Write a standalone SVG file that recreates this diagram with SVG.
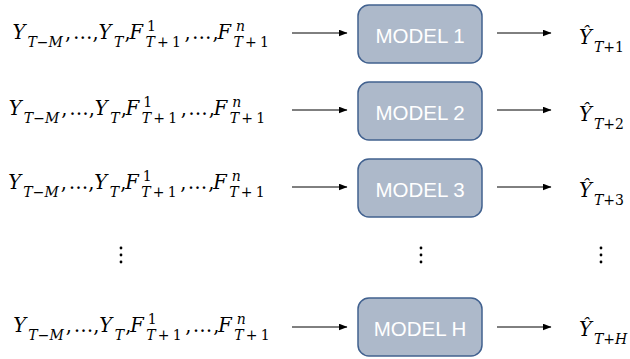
<svg xmlns="http://www.w3.org/2000/svg" width="630" height="359" viewBox="0 0 630 359">
  <style>
    .math { font-family: "DejaVu Serif", "Liberation Serif", serif; font-style: italic; font-size: 19.5px; fill: #000; }
    .sub { font-size: 14px; }
    .up { font-style: normal; }
    .box { fill: #ADB9CA; stroke: #41618F; stroke-width: 1.5; }
    .label { font-family: "Liberation Sans", Arial, sans-serif; font-size: 20.5px; fill: #FFFFFF; text-anchor: middle; }
    .wire { stroke: #000; stroke-width: 1; fill: none; marker-end: url(#head); }
    .dots { fill: #000; }
  </style>
  <defs>
    <marker id="head" markerUnits="userSpaceOnUse" markerWidth="9" markerHeight="7" refX="8.5" refY="3.5" orient="auto">
      <path d="M0,0 L9,3.5 L0,7 z" fill="#000"/>
    </marker>
  </defs>
  <rect width="630" height="359" fill="#FFFFFF"/>

  <!-- input sequences, one per row -->
  <g id="input-1" transform="translate(0,39)">
    <text class="math"><tspan x="12.5" y="0">Y</tspan><tspan class="sub" x="27.5" y="8">T<tspan class="up">−</tspan>M</tspan><tspan class="up" x="65" y="0">,</tspan><tspan class="up" x="73" y="0">…</tspan><tspan class="up" x="92.5" y="0">,</tspan><tspan x="98.5" y="0">Y</tspan><tspan class="sub" x="114" y="8">T</tspan><tspan class="up" x="124.5" y="0">,</tspan><tspan x="129.5" y="0">F</tspan><tspan class="sub up" x="147" y="-8.5">1</tspan><tspan class="sub" x="145.5" y="8">T</tspan><tspan class="sub up" x="157" y="8">+</tspan><tspan class="sub up" x="172" y="8">1</tspan><tspan class="up" x="184.5" y="0">,</tspan><tspan class="up" x="192" y="0">…</tspan><tspan class="up" x="212.5" y="0">,</tspan><tspan x="217.5" y="0">F</tspan><tspan class="sub" x="236" y="-8.5">n</tspan><tspan class="sub" x="233.5" y="8">T</tspan><tspan class="sub up" x="245" y="8">+</tspan><tspan class="sub up" x="260" y="8">1</tspan></text>
  </g>
  <g id="input-2" transform="translate(-3.7,115)">
    <text class="math"><tspan x="12.5" y="0">Y</tspan><tspan class="sub" x="27.5" y="8">T<tspan class="up">−</tspan>M</tspan><tspan class="up" x="65" y="0">,</tspan><tspan class="up" x="73" y="0">…</tspan><tspan class="up" x="92.5" y="0">,</tspan><tspan x="98.5" y="0">Y</tspan><tspan class="sub" x="114" y="8">T</tspan><tspan class="up" x="124.5" y="0">,</tspan><tspan x="129.5" y="0">F</tspan><tspan class="sub up" x="147" y="-8.5">1</tspan><tspan class="sub" x="145.5" y="8">T</tspan><tspan class="sub up" x="157" y="8">+</tspan><tspan class="sub up" x="172" y="8">1</tspan><tspan class="up" x="184.5" y="0">,</tspan><tspan class="up" x="192" y="0">…</tspan><tspan class="up" x="212.5" y="0">,</tspan><tspan x="217.5" y="0">F</tspan><tspan class="sub" x="236" y="-8.5">n</tspan><tspan class="sub" x="233.5" y="8">T</tspan><tspan class="sub up" x="245" y="8">+</tspan><tspan class="sub up" x="260" y="8">1</tspan></text>
  </g>
  <g id="input-3" transform="translate(-4.2,189)">
    <text class="math"><tspan x="12.5" y="0">Y</tspan><tspan class="sub" x="27.5" y="8">T<tspan class="up">−</tspan>M</tspan><tspan class="up" x="65" y="0">,</tspan><tspan class="up" x="73" y="0">…</tspan><tspan class="up" x="92.5" y="0">,</tspan><tspan x="98.5" y="0">Y</tspan><tspan class="sub" x="114" y="8">T</tspan><tspan class="up" x="124.5" y="0">,</tspan><tspan x="129.5" y="0">F</tspan><tspan class="sub up" x="147" y="-8.5">1</tspan><tspan class="sub" x="145.5" y="8">T</tspan><tspan class="sub up" x="157" y="8">+</tspan><tspan class="sub up" x="172" y="8">1</tspan><tspan class="up" x="184.5" y="0">,</tspan><tspan class="up" x="192" y="0">…</tspan><tspan class="up" x="212.5" y="0">,</tspan><tspan x="217.5" y="0">F</tspan><tspan class="sub" x="236" y="-8.5">n</tspan><tspan class="sub" x="233.5" y="8">T</tspan><tspan class="sub up" x="245" y="8">+</tspan><tspan class="sub up" x="260" y="8">1</tspan></text>
  </g>
  <g id="input-h" transform="translate(0.8,332)">
    <text class="math"><tspan x="12.5" y="0">Y</tspan><tspan class="sub" x="27.5" y="8">T<tspan class="up">−</tspan>M</tspan><tspan class="up" x="65" y="0">,</tspan><tspan class="up" x="73" y="0">…</tspan><tspan class="up" x="92.5" y="0">,</tspan><tspan x="98.5" y="0">Y</tspan><tspan class="sub" x="114" y="8">T</tspan><tspan class="up" x="124.5" y="0">,</tspan><tspan x="129.5" y="0">F</tspan><tspan class="sub up" x="147" y="-8.5">1</tspan><tspan class="sub" x="145.5" y="8">T</tspan><tspan class="sub up" x="157" y="8">+</tspan><tspan class="sub up" x="172" y="8">1</tspan><tspan class="up" x="184.5" y="0">,</tspan><tspan class="up" x="192" y="0">…</tspan><tspan class="up" x="212.5" y="0">,</tspan><tspan x="217.5" y="0">F</tspan><tspan class="sub" x="236" y="-8.5">n</tspan><tspan class="sub" x="233.5" y="8">T</tspan><tspan class="sub up" x="245" y="8">+</tspan><tspan class="sub up" x="260" y="8">1</tspan></text>
  </g>

  <!-- models -->
  <g id="model-1">
    <rect class="box" x="358" y="5" width="124" height="58" rx="11"/>
    <text class="label" x="420" y="43">MODEL 1</text>
  </g>
  <g id="model-2">
    <rect class="box" x="358" y="82" width="124" height="58" rx="11"/>
    <text class="label" x="420" y="120">MODEL 2</text>
  </g>
  <g id="model-3">
    <rect class="box" x="358" y="159" width="124" height="58" rx="11"/>
    <text class="label" x="420" y="197">MODEL 3</text>
  </g>
  <g id="model-h">
    <rect class="box" x="358" y="298" width="124" height="58" rx="11"/>
    <text class="label" x="420" y="336">MODEL H</text>
  </g>

  <!-- forecasts -->
  <g id="output-1">
    <text class="math"><tspan x="579" y="44">Ŷ</tspan><tspan class="sub" x="594" y="52">T<tspan class="up">+1</tspan></tspan></text>
  </g>
  <g id="output-2">
    <text class="math"><tspan x="579" y="121">Ŷ</tspan><tspan class="sub" x="594" y="129">T<tspan class="up">+2</tspan></tspan></text>
  </g>
  <g id="output-3">
    <text class="math"><tspan x="579" y="197">Ŷ</tspan><tspan class="sub" x="594" y="205">T<tspan class="up">+3</tspan></tspan></text>
  </g>
  <g id="output-h">
    <text class="math"><tspan x="579" y="336">Ŷ</tspan><tspan class="sub" x="594" y="344">T<tspan class="up">+</tspan>H</tspan></text>
  </g>

  <!-- connectors -->
  <g id="connectors">
    <line class="wire" x1="292" y1="33" x2="347" y2="33"/>
    <line class="wire" x1="497" y1="33" x2="551" y2="33"/>
    <line class="wire" x1="292" y1="110" x2="347" y2="110"/>
    <line class="wire" x1="497" y1="110" x2="551" y2="110"/>
    <line class="wire" x1="292" y1="187" x2="347" y2="187"/>
    <line class="wire" x1="497" y1="187" x2="551" y2="187"/>
    <line class="wire" x1="292" y1="327" x2="347" y2="327"/>
    <line class="wire" x1="497" y1="327" x2="551" y2="327"/>
  </g>

  <!-- vertical ellipses -->
  <g id="ellipsis" class="dots">
    <circle cx="121" cy="248" r="1.4"/><circle cx="121" cy="255" r="1.4"/><circle cx="121" cy="262" r="1.4"/>
    <circle cx="421" cy="248" r="1.4"/><circle cx="421" cy="255" r="1.4"/><circle cx="421" cy="262" r="1.4"/>
    <circle cx="601" cy="248" r="1.4"/><circle cx="601" cy="255" r="1.4"/><circle cx="601" cy="262" r="1.4"/>
  </g>
</svg>
